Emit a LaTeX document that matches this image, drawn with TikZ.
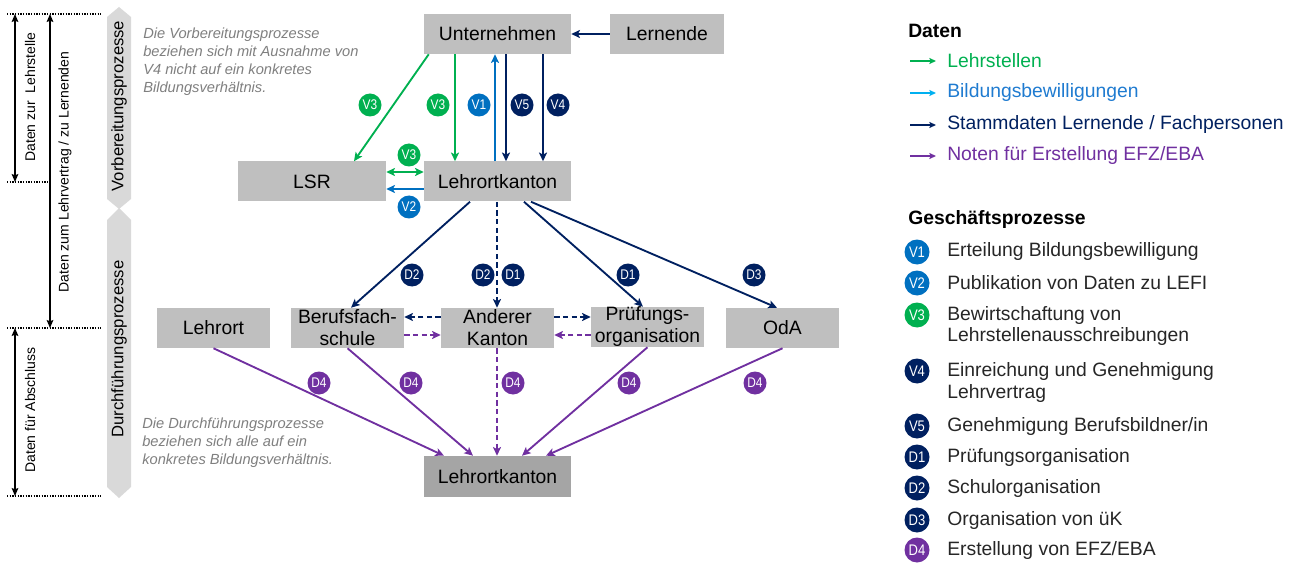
\documentclass[tikz,border=0pt]{standalone}
\usepackage{fontspec}
\setmainfont{Liberation Sans}
\newfontfamily\narrowfont[FakeStretch=0.85]{Liberation Sans}
\usetikzlibrary{arrows.meta,calc}
\definecolor{cgreen}{HTML}{00B050}
\definecolor{cblue}{HTML}{0070C0}
\definecolor{ccyan}{HTML}{00B0F0}
\definecolor{ctextblue}{HTML}{1F7BD0}
\definecolor{cnavy}{HTML}{002060}
\definecolor{cpurple}{HTML}{7030A0}
\definecolor{boxgray}{HTML}{BFBFBF}
\definecolor{darkbox}{HTML}{A5A5A5}
\definecolor{bandgray}{HTML}{D9D9D9}
\definecolor{notegray}{HTML}{7F7F7F}
\definecolor{legtext}{HTML}{262626}
\begin{document}
\begin{tikzpicture}[x=0.75pt,y=-0.75pt,
  box/.style={fill=boxgray, inner sep=0pt, align=center, minimum height=30pt,
    font=\fontsize{14.5}{16.5}\selectfont, text=black},
  bdg/.style={circle, fill=#1, text=white, inner sep=0pt, minimum size=17.25pt,
    font=\narrowfont\fontsize{10.5}{10.5}\selectfont},
  lbdg/.style={bdg=#1, minimum size=18.75pt, font=\narrowfont\fontsize{11.5}{11.5}\selectfont},
  flow/.style={line width=1.4pt, -{Stealth[length=6.5pt,width=6pt,inset=1.5pt]}},
  dflow/.style={line width=1.4pt, {Stealth[length=6.5pt,width=6pt,inset=1.5pt]}-{Stealth[length=6.5pt,width=6pt,inset=1.5pt]}},
  dsh/.style={dash pattern=on 4pt off 2.5pt},
  legarrow/.style={line width=1.3pt, -{Stealth[length=5pt,width=4.5pt,inset=1pt]}},
  dotline/.style={line width=1pt, dash pattern=on 1pt off 1pt},
  sidearrow/.style={line width=1.1pt, {Stealth[length=6pt,width=5pt,inset=1pt]}-{Stealth[length=6pt,width=5pt,inset=1pt]}},
  sidelabel/.style={rotate=90, font=\fontsize{10.5}{12}\selectfont},
  bandlabel/.style={rotate=90, font=\fontsize{12.5}{14}\selectfont},
  note/.style={anchor=north west, align=left, inner sep=0pt, text=notegray,
    font=\itshape\fontsize{11}{13.5}\selectfont},
  legitem/.style={anchor=west, align=left, inner sep=0pt, font=\fontsize{14.5}{16.5}\selectfont},
  leghead/.style={anchor=west, inner sep=0pt, font=\bfseries\fontsize{14.5}{16.5}\selectfont}
]
\useasboundingbox (0,0) rectangle (1296,563);

% ---- left side brackets
\coordinate (d0a) at (7,14);   \coordinate (d0b) at (101,14);
\coordinate (d1a) at (7,182);  \coordinate (d1b) at (51,182);
\coordinate (d2a) at (7,328);  \coordinate (d2b) at (101,328);
\coordinate (d3a) at (7,496);  \coordinate (d3b) at (101,496);
\draw[dotline] (d0a) -- (d0b);
\draw[dotline] (d1a) -- (d1b);
\draw[dotline] (d2a) -- (d2b);
\draw[dotline] (d3a) -- (d3b);
\coordinate (a1t) at (15,14);  \coordinate (a1b) at (15,182);
\coordinate (a2t) at (50,14);  \coordinate (a2b) at (50,328);
\coordinate (a3t) at (15,328); \coordinate (a3b) at (15,496);
\draw[sidearrow] (a1t) -- (a1b);
\draw[sidearrow] (a2t) -- (a2b);
\draw[sidearrow] (a3t) -- (a3b);
\node[sidelabel] (s1) at (30,97) {Daten zur\ \ Lehrstelle};
\node[sidelabel] (s2) at (65,172) {Daten zum Lehrvertrag / zu Lernenden};
\node[sidelabel] (s3) at (30,410) {Daten für Abschluss};

% ---- grey bands
\fill[bandgray] (119,7) -- (131,17) -- (131,199) -- (119,209) -- (107,199) -- (107,17) -- cycle;
\fill[bandgray] (119,208) -- (131,220) -- (131,487) -- (119,498) -- (107,487) -- (107,220) -- cycle;
\node[bandlabel] (bl1) at (119,106) {Vorbereitungsprozesse};
\node[bandlabel] (bl2) at (119,349) {Durchführungsprozesse};

% ---- notes
\node[note] (n1) at (143,28) {Die Vorbereitungsprozesse\\beziehen sich mit Ausnahme von\\V4 nicht auf ein konkretes\\Bildungsverhältnis.};
\node[note] (n2) at (142,418) {Die Durchführungsprozesse\\beziehen sich alle auf ein\\konkretes Bildungsverhältnis.};

% ---- boxes
\node[box, minimum width=110.25pt] (U) at (497.5,34) {Unternehmen};
\node[box, minimum width=85.5pt] (Le) at (667,34) {Lernende};
\node[box, minimum width=111pt] (LSR) at (312,181.5) {LSR};
\node[box, minimum width=110.25pt] (LK) at (497.5,181.5) {Lehrortkanton};
\node[box, minimum width=84.75pt] (LO) at (213.5,328) {Lehrort};
\node[box, minimum width=84.75pt] (BFS) at (347.5,328) {Berufsfach-\\schule};
\node[box, minimum width=84.75pt] (AK) at (497.5,328) {Anderer\\Kanton};
\node[box, minimum width=84.75pt] (PO) at (647.5,327) {Prüfungs-\\organisation};
\node[box, minimum width=84.75pt] (OdA) at (782.5,328) {OdA};
\node[box, fill=darkbox, minimum width=110.25pt, minimum height=30.75pt] (LKb) at (497.5,476.5) {Lehrortkanton};

% ---- connectors, top
\draw[flow, cnavy] (Le.west) -- (U.east);
\draw[flow, cgreen] ($(U.south west)+(5,0)$) -- ($(LSR.north)+(42,0)$);
\draw[flow, cgreen] ($(U.south)+(-42.5,0)$) -- ($(LK.north)+(-42.5,0)$);
\draw[flow, cblue] ($(LK.north)+(-2.5,0)$) -- ($(U.south)+(-2.5,0)$);
\draw[flow, cnavy] ($(U.south)+(8.5,0)$) -- ($(LK.north)+(8.5,0)$);
\draw[flow, cnavy] ($(U.south)+(45.5,0)$) -- ($(LK.north)+(45.5,0)$);
\draw[dflow, cgreen] ($(LSR.east)+(0,-9.5)$) -- ($(LK.west)+(0,-9.5)$);
\draw[flow, cblue] ($(LK.west)+(0,7.5)$) -- ($(LSR.east)+(0,7.5)$);

% ---- connectors, middle
\draw[flow, cnavy] ($(LK.south)+(-27.5,0)$) -- ($(BFS.north)+(3.5,0)$);
\draw[flow, cnavy, dsh] ($(LK.south)+(-0.5,0)$) -- ($(AK.north)+(-0.5,0)$);
\draw[flow, cnavy] ($(LK.south)+(26.5,0)$) -- ($(PO.north)+(-4.5,0)$);
\draw[flow, cnavy] ($(LK.south)+(33.5,0)$) -- ($(OdA.north)+(-5.5,0)$);
\draw[flow, cnavy, dsh] ($(AK.west)+(0,-11)$) -- ($(BFS.east)+(0,-11)$);
\draw[flow, cnavy, dsh] ($(AK.east)+(0,-11)$) -- ($(PO.west)+(0,-10)$);
\draw[flow, cpurple, dsh] ($(BFS.east)+(0,7)$) -- ($(AK.west)+(0,7)$);
\draw[flow, cpurple, dsh] ($(PO.west)+(0,8)$) -- ($(AK.east)+(0,7)$);

% ---- connectors, bottom
\draw[flow, cpurple] (LO.south) -- ($(LKb.north)+(-53.5,0)$);
\draw[flow, cpurple] (BFS.south) -- ($(LKb.north)+(-24.5,0)$);
\draw[flow, cpurple, dsh] ($(AK.south)+(-0.5,0)$) -- ($(LKb.north)+(-0.5,0)$);
\draw[flow, cpurple] (PO.south) -- ($(LKb.north)+(24.5,0)$);
\draw[flow, cpurple] (OdA.south) -- ($(LKb.north)+(48.5,0)$);

% ---- badges
\node[bdg=cgreen] (bv3a) at (370,105) {V3};
\node[bdg=cgreen] (bv3b) at (438,105) {V3};
\node[bdg=cblue]  (bv1)  at (479,105) {V1};
\node[bdg=cnavy]  (bv5)  at (522,105) {V5};
\node[bdg=cnavy]  (bv4)  at (558,105) {V4};
\node[bdg=cgreen] (bv3c) at (409,155) {V3};
\node[bdg=cblue]  (bv2)  at (409,207) {V2};
\node[bdg=cnavy]  (bd2a) at (412,275) {D2};
\node[bdg=cnavy]  (bd2b) at (483,275) {D2};
\node[bdg=cnavy]  (bd1a) at (513,275) {D1};
\node[bdg=cnavy]  (bd1b) at (628,275) {D1};
\node[bdg=cnavy]  (bd3)  at (754,275) {D3};
\node[bdg=cpurple] (bd4a) at (319,383) {D4};
\node[bdg=cpurple] (bd4b) at (411,383) {D4};
\node[bdg=cpurple] (bd4c) at (513,383) {D4};
\node[bdg=cpurple] (bd4d) at (629,383) {D4};
\node[bdg=cpurple] (bd4e) at (755,383) {D4};

% ---- legend: Daten
\node[leghead] (hd) at (908,31) {Daten};
\coordinate (l1a) at (910,61);  \coordinate (l1b) at (936,61);
\coordinate (l2a) at (910,93);  \coordinate (l2b) at (936,93);
\coordinate (l3a) at (910,125); \coordinate (l3b) at (936,125);
\coordinate (l4a) at (910,156); \coordinate (l4b) at (936,156);
\draw[legarrow, cgreen] (l1a) -- (l1b);
\draw[legarrow, ccyan] (l2a) -- (l2b);
\draw[legarrow, cnavy] (l3a) -- (l3b);
\draw[legarrow, cpurple] (l4a) -- (l4b);
\node[legitem, text=cgreen] (t1) at (947,61) {Lehrstellen};
\node[legitem, text=ctextblue] (t2) at (947,93) {Bildungsbewilligungen};
\node[legitem, text=cnavy] (t3) at (947,125) {Stammdaten Lernende / Fachpersonen};
\node[legitem, text=cpurple] (t4) at (947,156) {Noten für Erstellung EFZ/EBA};

% ---- legend: Geschaeftsprozesse
\node[leghead] (hg) at (908,220) {Geschäftsprozesse};
\node[lbdg=cblue]   (g1) at (917,252) {V1};
\node[lbdg=cblue]   (g2) at (917,283) {V2};
\node[lbdg=cgreen]  (g3) at (917,315) {V3};
\node[lbdg=cnavy]   (g4) at (917,371) {V4};
\node[lbdg=cnavy]   (g5) at (917,426) {V5};
\node[lbdg=cnavy]   (g6) at (917,457) {D1};
\node[lbdg=cnavy]   (g7) at (917,488) {D2};
\node[lbdg=cnavy]   (g8) at (917,520) {D3};
\node[lbdg=cpurple] (g9) at (917,550) {D4};
\node[legitem, text=legtext] (p1) at (947,252) {Erteilung Bildungsbewilligung};
\node[legitem, text=legtext] (p2) at (947,283) {Publikation von Daten zu LEFI};
\node[legitem, text=legtext] (p3) at (947,326) {Bewirtschaftung von\\Lehrstellenausschreibungen};
\node[legitem, text=legtext] (p4) at (947,382) {Einreichung und Genehmigung\\Lehrvertrag};
\node[legitem, text=legtext] (p5) at (947,426) {Genehmigung Berufsbildner/in};
\node[legitem, text=legtext] (p6) at (947,457) {Prüfungsorganisation};
\node[legitem, text=legtext] (p7) at (947,488) {Schulorganisation};
\node[legitem, text=legtext] (p8) at (947,520) {Organisation von üK};
\node[legitem, text=legtext] (p9) at (947,550) {Erstellung von EFZ/EBA};
\end{tikzpicture}
\end{document}
